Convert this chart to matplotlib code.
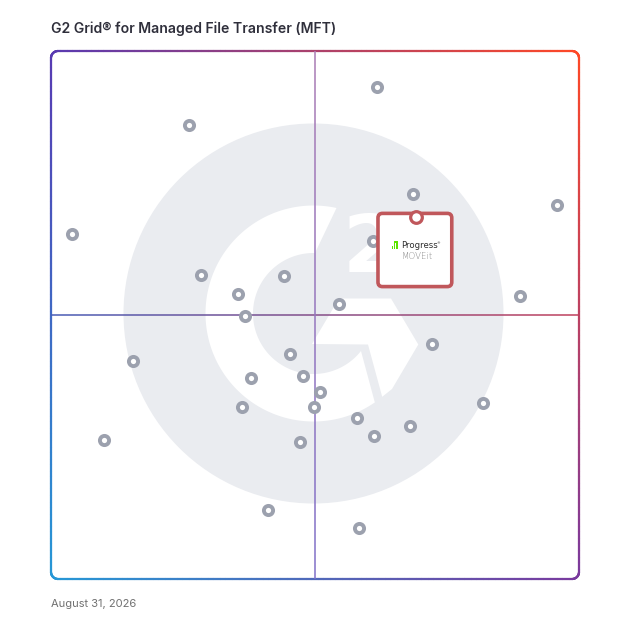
import numpy as np
import matplotlib
matplotlib.use("Agg")
import matplotlib.pyplot as plt
from matplotlib.collections import LineCollection
from matplotlib.patches import Circle, Polygon, FancyBboxPatch
import matplotlib.transforms as mtransforms

# ---------------- data ----------------
title = "G2 Grid\u00ae for Managed File Transfer (MFT)"
date_label = "August 31, 2026"
# x: satisfaction (0-100), y: market presence (0-100)
satisfaction = [61.7, 26.1, 68.5, 95.8, 3.9, 61.0, 28.5, 44.1, 35.4, 88.8,
                54.5, 36.7, 72.1, 15.5, 45.3, 47.7, 37.9, 50.9, 49.8, 36.2,
                81.8, 58.0, 68.0, 61.1, 10.0, 47.2, 41.1, 58.3]
market_presence = [93.2, 86.0, 73.0, 70.8, 65.3, 64.1, 57.5, 57.4, 54.0, 53.6,
                   52.0, 49.8, 44.6, 41.3, 42.7, 38.5, 38.0, 35.4, 32.6, 32.5,
                   33.4, 30.4, 29.0, 27.1, 26.3, 25.9, 13.1, 9.7]
highlight_labels = ["Progress", "MOVEit"]
highlight_x = [69.2]
highlight_y = [68.6]

# ---------------- figure ----------------
W = 628
fig = plt.figure(figsize=(6.28, 6.28), dpi=100)
fig.patch.set_facecolor("white")
bg = fig.add_axes([0, 0, 1, 1], zorder=0)
bg.set_xlim(0, W)
bg.set_ylim(W, 0)
bg.axis("off")

L, T, S = 51, 51, 528
ax = fig.add_axes([L / W, (W - T - S) / W, S / W, S / W], zorder=2)
ax.set_xlim(0, 100)
ax.set_ylim(0, 100)
ax.axis("off")
ax.patch.set_alpha(0)

# corner colours of the gradient frame
TL = np.array([88, 58, 178]) / 255
TR = np.array([255, 72, 38]) / 255
BL = np.array([38, 152, 214]) / 255
BR = np.array([122, 58, 158]) / 255


def grad(u, v):
    top = TL * (1 - u) + TR * u
    bot = BL * (1 - u) + BR * u
    return np.clip(top * (1 - v) + bot * v, 0, 1)

# ---------------- watermark (G2 logo) ----------------
cx, cy = 313.5, 313.5
wm = "#eaecf0"
bg.add_patch(Circle((cx, cy), 190, fc=wm, ec="none", zorder=1))


def pol(r, a):
    a = np.deg2rad(a)
    return np.column_stack([cx + r * np.cos(a), cy - r * np.sin(a)])

outer = pol(108, np.linspace(77.7, 304.6, 200))
inner = pol(60.5, np.linspace(321.7, 88.6, 200))
bg.add_patch(Polygon(np.vstack([outer, inner]), closed=True, fc="white", ec="none", zorder=2))
chev = [(312, 344), (339, 298.5), (391, 298.5), (418.3, 344.5), (392, 389),
        (382.2, 396.8), (368, 344.5)]
bg.add_patch(Polygon(chev, closed=True, fc="white", ec="none", zorder=2))
bg.text(343, 272.5, "2", fontsize=58, fontweight="bold", color="white",
        ha="left", va="baseline", family="DejaVu Sans", zorder=2)

# ---------------- gradient frame ----------------
x0, y0, x1, y1, r = L, T, L + S, T + S, 7
pts = []
n = 300
pts += list(zip(np.linspace(x0 + r, x1 - r, n), np.full(n, y0)))
t = np.deg2rad(np.linspace(-90, 0, 30))
pts += list(zip(x1 - r + r * np.cos(t), y0 + r + r * np.sin(t)))
pts += list(zip(np.full(n, x1), np.linspace(y0 + r, y1 - r, n)))
t = np.deg2rad(np.linspace(0, 90, 30))
pts += list(zip(x1 - r + r * np.cos(t), y1 - r + r * np.sin(t)))
pts += list(zip(np.linspace(x1 - r, x0 + r, n), np.full(n, y1)))
t = np.deg2rad(np.linspace(90, 180, 30))
pts += list(zip(x0 + r + r * np.cos(t), y1 - r + r * np.sin(t)))
pts += list(zip(np.full(n, x0), np.linspace(y1 - r, y0 + r, n)))
t = np.deg2rad(np.linspace(180, 270, 30))
pts += list(zip(x0 + r + r * np.cos(t), y0 + r + r * np.sin(t)))
pts.append(pts[0])
pts = np.array(pts)
segs = np.stack([pts[:-1], pts[1:]], axis=1)
mids = segs.mean(axis=1)
cols = [grad((mx - x0) / S, (my - y0) / S) for mx, my in mids]
bg.add_collection(LineCollection(segs, colors=cols, linewidths=1.6,
                                 capstyle="round", zorder=3))

# ---------------- quadrant lines ----------------
m = 200
xs = np.linspace(0, 100, m)
hseg = np.stack([np.column_stack([xs[:-1], np.full(m - 1, 50)]),
                 np.column_stack([xs[1:], np.full(m - 1, 50)])], axis=1)
hl, hr = np.array([72, 92, 182]) / 255, np.array([192, 64, 92]) / 255
hcols = [hl * (1 - f) + hr * f for f in np.linspace(0, 1, m - 1)]
ax.add_collection(LineCollection(hseg, colors=hcols, linewidths=1.1, zorder=1))
vseg = np.stack([np.column_stack([np.full(m - 1, 50), xs[:-1]]),
                 np.column_stack([np.full(m - 1, 50), xs[1:]])], axis=1)
vb, vt = np.array([128, 112, 200]) / 255, np.array([170, 124, 180]) / 255
vcols = [vb * (1 - f) + vt * f for f in np.linspace(0, 1, m - 1)]
ax.add_collection(LineCollection(vseg, colors=vcols, linewidths=1.1, zorder=1))

# ---------------- points ----------------
ax.plot(satisfaction, market_presence, "o", ls="none", ms=6.6, mew=2.8,
        mfc="white", mec="#9ca1ae", zorder=3, clip_on=False)

# ---------------- highlighted product ----------------
red = "#c0575b"
hx, hy = highlight_x[0], highlight_y[0]
trans = fig.dpi_scale_trans + mtransforms.ScaledTranslation(hx, hy, ax.transData)
ax.add_patch(FancyBboxPatch((-0.384, -0.698), 0.738, 0.732,
                            boxstyle="round,pad=0,rounding_size=0.045",
                            transform=trans, fc="white", ec=red, lw=2.6,
                            zorder=4, clip_on=False))
green = "#5ce500"
base = -0.325
bw = 0.013
for bx, h in [(-0.245, 0.035), (-0.222, 0.058), (-0.199, 0.08)]:
    ax.add_patch(Polygon([(bx, base), (bx + bw, base), (bx + bw, base + h),
                          (bx, base + h)], closed=True, transform=trans,
                         fc=green, ec="none", zorder=5, clip_on=False))
ax.add_patch(Polygon([(-0.225, base + 0.08), (-0.186, base + 0.08),
                      (-0.186, base + 0.067), (-0.225, base + 0.067)],
                     closed=True, transform=trans, fc=green, ec="none", zorder=5,
                     clip_on=False))
ax.text(-0.150, -0.287, highlight_labels[0], transform=trans, fontsize=6.1,
        color="#2e2e2e", ha="left", va="center", family="DejaVu Sans", zorder=5)
ax.text(0.203, -0.262, "\u00ae", transform=trans, fontsize=2.6,
        color="#2e2e2e", ha="left", va="center", family="DejaVu Sans", zorder=5)
ax.text(-0.150, -0.395, highlight_labels[1], transform=trans, fontsize=6.2,
        color="#858585", ha="left", va="center", family="DejaVu Sans",
        fontweight="light", zorder=5)
ax.plot(highlight_x, highlight_y, "o", ms=8.4, mew=2.3, mfc="white", mec=red,
        zorder=6, clip_on=False)

# ---------------- texts ----------------
fig.text(51 / W, 1 - 29 / W, title, fontsize=10.1, fontweight="semibold",
         color="#2f2f3b", ha="left", va="center", family=["Inter", "DejaVu Sans"])
fig.text(51 / W, 1 - 604 / W, date_label, fontsize=8.0, color="#707070",
         ha="left", va="center", family=["Inter", "DejaVu Sans"])

fig.savefig("out.png", dpi=100, facecolor="white")
